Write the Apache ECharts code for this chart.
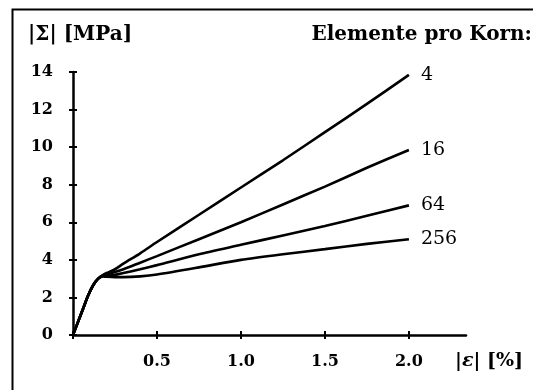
<!DOCTYPE html>
<html>
<head>
<meta charset="utf-8">
<script src="https://cdn.jsdelivr.net/npm/echarts@6/dist/echarts.min.js"></script>
<style>
html, body { margin: 0; padding: 0; background: #fff; }
#chart { width: 533px; height: 390px; }
</style>
</head>
<body>
<div id="chart"></div>
<script>
// Dehnung |eps| in %
var strain = [0, 0.03, 0.06, 0.09, 0.12, 0.15, 0.18, 0.2, 0.25, 0.3, 0.4, 0.5, 0.75, 1.0, 1.25, 1.5, 1.75, 2.0];
// Spannung |Sigma| in MPa, je Elemente pro Korn
var sig4 = [0, 0.7, 1.4, 2.1, 2.65, 3.0, 3.2, 3.3, 3.5, 3.8, 4.35, 4.95, 6.4, 7.85, 9.3, 10.8, 12.3, 13.85];
var sig16 = [0, 0.7, 1.4, 2.1, 2.65, 3.0, 3.18, 3.22, 3.35, 3.5, 3.85, 4.2, 5.1, 6.0, 6.95, 7.9, 8.9, 9.85];
var sig64 = [0, 0.7, 1.4, 2.1, 2.65, 3.0, 3.15, 3.15, 3.2, 3.3, 3.5, 3.72, 4.3, 4.8, 5.3, 5.8, 6.35, 6.9];
var sig256 = [0, 0.7, 1.4, 2.1, 2.65, 3.0, 3.12, 3.1, 3.08, 3.08, 3.12, 3.22, 3.6, 4.0, 4.3, 4.57, 4.85, 5.1];
var names = ['4', '16', '64', '256'];
var xTicks = [0, 0.5, 1.0, 1.5, 2.0];
var xLabels = [0.5, 1.0, 1.5, 2.0];

var serif = '"DejaVu Serif", "Liberation Serif", serif';

function pairs(ys) {
	var out = [];
	for (var i = 0; i < strain.length; i++) {
		out.push([strain[i], ys[i]]);
	}
	return out;
}

function makeSeries(name, ys) {
	return {
		name: name,
		type: 'line',
		xAxisIndex: 0,
		yAxisIndex: 0,
		data: pairs(ys),
		smooth: 0.25,
		showSymbol: false,
		lineStyle: { color: '#000', width: 2.6 },
		endLabel: {
			show: true,
			formatter: name,
			distance: 12,
			fontFamily: serif,
			fontSize: 19,
			color: '#000'
		}
	};
}

var chart = echarts.init(document.getElementById('chart'));
var axisX = function(inside) {
	return {
		type: 'value',
		position: 'bottom',
		min: 0,
		max: 2.34,
		interval: 0.5,
		axisLine: { show: !inside, onZero: false, lineStyle: { color: '#000', width: 2.5 } },
		axisTick: { show: true, inside: inside, length: 4, customValues: xTicks, lineStyle: { color: '#000', width: 2 } },
		axisLabel: {
			show: !inside,
			customValues: xLabels,
			margin: 19,
			fontFamily: serif,
			fontWeight: 'bold',
			fontSize: 16,
			color: '#000',
			formatter: function(v) { return v.toFixed(1); }
		},
		splitLine: { show: false }
	};
};
var axisY = function(inside) {
	return {
		type: 'value',
		position: 'left',
		min: 0,
		max: 14,
		interval: 2,
		axisLine: { show: !inside, onZero: false, lineStyle: { color: '#000', width: 2.5 } },
		axisTick: { show: true, inside: inside, length: 4, lineStyle: { color: '#000', width: 2 } },
		axisLabel: {
			show: !inside,
			margin: 20,
			fontFamily: serif,
			fontWeight: 'bold',
			fontSize: 16,
			color: '#000'
		},
		splitLine: { show: false }
	};
};

chart.setOption({
	animation: false,
	backgroundColor: '#fff',
	grid: { left: 73, right: 67, top: 72, bottom: 55, containLabel: false },
	xAxis: [axisX(false), axisX(true)],
	yAxis: [axisY(false), axisY(true)],
	title: [{
		text: '|Σ| [MPa]',
		left: 28,
		top: 25,
		padding: 0,
		textStyle: { fontFamily: serif, fontWeight: 'bold', fontSize: 20, color: '#000' }
	}, {
		text: 'Elemente pro Korn:',
		right: 1,
		top: 25,
		padding: 0,
		textStyle: { fontFamily: serif, fontWeight: 'bold', fontSize: 20, color: '#000' }
	}, {
		text: '|{e|ε}| [%]',
		left: 455,
		top: 352,
		padding: 0,
		textStyle: {
			fontFamily: serif, fontSize: 19, color: '#000',
			rich: { e: { fontFamily: serif, fontStyle: 'italic', fontSize: 19, color: '#000' } }
		}
	}],
	graphic: [{
		// Rahmen links und oben
		type: 'polyline',
		shape: { points: [[12.5, 390], [12.5, 9.5], [533, 9.5]] },
		style: { stroke: '#000', lineWidth: 2, fill: null }
	}],
	series: [
		makeSeries(names[0], sig4),
		makeSeries(names[1], sig16),
		makeSeries(names[2], sig64),
		makeSeries(names[3], sig256)
	]
});
</script>
</body>
</html>
